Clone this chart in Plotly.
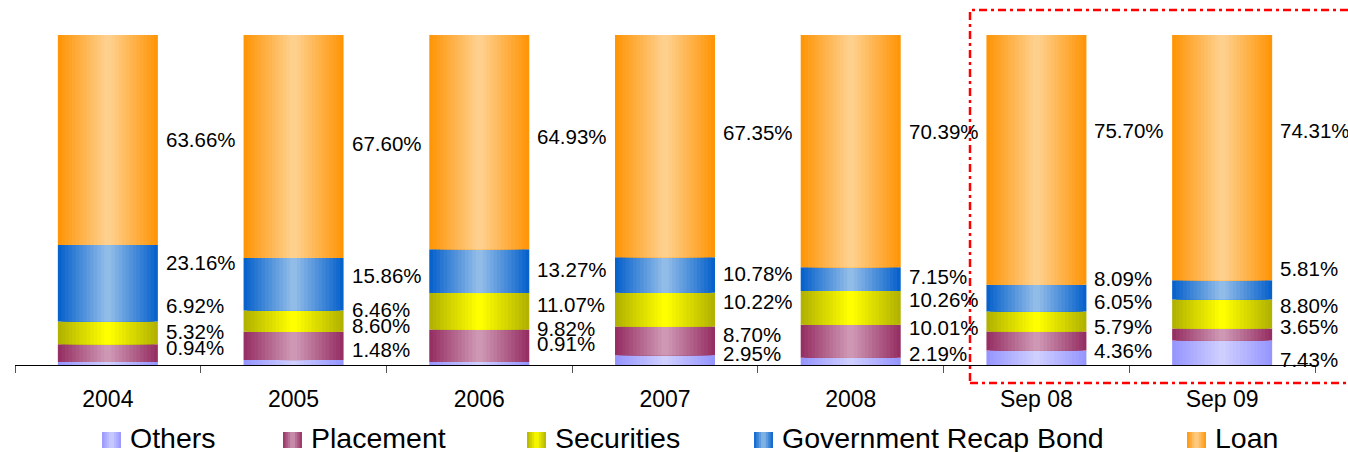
import plotly.graph_objects as go

# ---------------- data ----------------
categories = ["2004", "2005", "2006", "2007", "2008", "Sep 08", "Sep 09"]
others     = [0.94, 1.48, 0.91, 2.95, 2.19, 4.36, 7.43]
placement  = [5.32, 8.60, 9.82, 8.70, 10.01, 5.79, 3.65]
securities = [6.92, 6.46, 11.07, 10.22, 10.26, 6.05, 8.80]
gov_bond   = [23.16, 15.86, 13.27, 10.78, 7.15, 8.09, 5.81]
loan       = [63.66, 67.60, 64.93, 67.35, 70.39, 75.70, 74.31]

series_names = ["Others", "Placement", "Securities", "Government Recap Bond", "Loan"]
series_values = [others, placement, securities, gov_bond, loan]

# ---------------- styles ----------------
FONT = "Liberation Sans, Arial, sans-serif"
edge_colors = [(150, 150, 255), (150, 48, 100), (178, 178, 0), (8, 98, 204), (255, 150, 8)]
center_colors = [(206, 206, 255), (206, 152, 180), (255, 255, 0), (145, 188, 232), (254, 208, 142)]
BAR_W = 0.5385
N_LAYERS = 14

# plot-area geometry in pixels (for placing the legend in paper units)
PL, PR, PT, PB = 15, 1315, 35, 365

# manual label nudges (pixels, up = positive), per series per category
label_nudge = [
    [16, 13, 20, 7, 8, 7, -7],     # Others
    [22, 20, 17, 6, 14, 15, 8],    # Placement
    [27, 12, 7, 8, 8, 20, 8],      # Securities
    [21, 9, 2, 2, 3, 20, 21],      # Gov bond
    [1, 3, 6, 14, 20, 29, 27],     # Loan
]
# legend swatch left edges (px)
legend_x = [102, 283, 527, 754, 1187]
LEG_Y = 438
SW = 19
SH = 16


def lerp(c1, c2, t):
    return "rgb(%d,%d,%d)" % tuple(round(a + (b - a) * t) for a, b in zip(c1, c2))


def px_to_paper_x(px):
    return (px - PL) / (PR - PL)


def px_to_paper_y(py):
    return (PB - py) / (PB - PT)


fig = go.Figure()

# stacked bases computed from the data
bases = []
running = [0.0] * len(categories)
for vals in series_values:
    bases.append(list(running))
    running = [r + v for r, v in zip(running, vals)]

for s, (name, vals) in enumerate(zip(series_names, series_values)):
    for k in range(N_LAYERS):
        t = k / (N_LAYERS - 1)
        fig.add_trace(go.Bar(
            x=categories, y=vals, base=bases[s],
            width=BAR_W * (1 - k / N_LAYERS),
            marker=dict(color=lerp(edge_colors[s], center_colors[s], t), line=dict(width=0)),
            showlegend=False, hoverinfo="skip", name=name,
        ))

# value labels (x given as category index)
for s, vals in enumerate(series_values):
    for i in range(len(categories)):
        fig.add_annotation(
            x=i, y=bases[s][i] + vals[i] / 2, xref="x", yref="y",
            text="%.2f%%" % vals[i], showarrow=False,
            xanchor="left", yanchor="middle", xshift=56, yshift=label_nudge[s][i],
            font=dict(family=FONT, size=20.5, color="#000000"),
        )

# manual legend (gradient swatches + text)
N_SW = 8
for s, name in enumerate(series_names):
    x0 = legend_x[s]
    for k in range(N_SW):
        u = (k + 0.5) / N_SW
        t = 1 - abs(u - 0.5) * 2
        fig.add_shape(type="rect", xref="paper", yref="paper",
                      x0=px_to_paper_x(x0 + SW * k / N_SW),
                      x1=px_to_paper_x(x0 + SW * (k + 1) / N_SW + (1.0 if k < N_SW - 1 else 0)),
                      y0=px_to_paper_y(LEG_Y + SH / 2 + 2), y1=px_to_paper_y(LEG_Y - SH / 2 + 2),
                      line=dict(width=0), fillcolor=lerp(edge_colors[s], center_colors[s], t),
                      layer="above")
    fig.add_annotation(x=px_to_paper_x(x0 + SW + 7), y=px_to_paper_y(LEG_Y), xref="paper", yref="paper",
                       text=name, showarrow=False, xanchor="left", yanchor="middle",
                       font=dict(family=FONT, size=28.5, color="#000000"))

# red dash-dot highlight box
fig.add_shape(type="rect", xref="paper", yref="paper",
              x0=px_to_paper_x(970), x1=px_to_paper_x(1362),
              y0=px_to_paper_y(383), y1=px_to_paper_y(10),
              line=dict(color="#FF0000", width=2.5, dash="8px,4px,3px,4px"),
              fillcolor="rgba(0,0,0,0)", layer="above")

fig.update_layout(
    width=1348, height=452,
    margin=dict(l=PL, r=1348 - PR, t=PT, b=452 - PB),
    barmode="overlay",
    plot_bgcolor="white", paper_bgcolor="white",
    font=dict(family=FONT, color="#000000"),
    xaxis=dict(type="category", categoryorder="array", categoryarray=categories,
               range=[-0.5, len(categories) - 0.5],
               showline=True, linecolor="#000000", linewidth=1,
               ticks="outside", tickson="boundaries", ticklen=7, tickcolor="#555555",
               tickfont=dict(family=FONT, size=23, color="#000000"),
               showgrid=False, zeroline=False, ticklabelstandoff=13),
    yaxis=dict(range=[0, 100], visible=False, fixedrange=True),
    showlegend=False,
)

fig.write_html("out.html", config={"displayModeBar": False},
               post_script="document.body.style.margin='0';document.body.style.overflow='hidden';")
